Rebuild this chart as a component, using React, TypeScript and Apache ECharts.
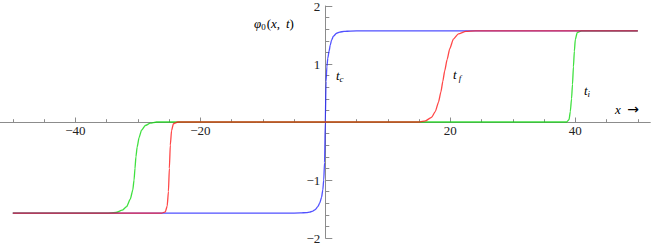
import React, { useEffect, useRef } from "react";
import * as echarts from "echarts";

// ---- data ----
const xMajorTicks = [-40, -20, 20, 40];
const xMinorTicks = [-50, -45, -40, -35, -30, -25, -20, -15, -10, -5, 5, 10, 15, 20, 25, 30, 35, 40, 45, 50];

const blueX = [-50, -6, -4, -3, -2.5, -2, -1.6, -1.2, -0.9, -0.6, -0.4, -0.25, -0.12, 0, 0.12, 0.25, 0.4, 0.6, 0.8, 1.0, 1.3, 1.8, 2.3, 3, 4, 6, 50];
const blueY = [-1.571, -1.571, -1.568, -1.562, -1.553, -1.535, -1.51, -1.46, -1.40, -1.30, -1.17, -1.0, -0.7, 0, 0.7, 0.95, 1.1, 1.22, 1.33, 1.41, 1.48, 1.53, 1.55, 1.562, 1.568, 1.571, 1.571];

const redX = [-50, -26.2, -25.6, -25.3, -25.1, -24.95, -24.8, -24.6, -24.3, -23.6, 15, 16, 17, 17.6, 18.1, 18.5, 18.8, 19.1, 19.5, 19.9, 20.5, 21.3, 22.5, 24, 50];
const redY = [-1.571, -1.571, -1.55, -1.45, -1.2, -0.8, -0.4, -0.15, -0.03, 0, 0, 0.02, 0.08, 0.18, 0.34, 0.52, 0.7, 0.88, 1.08, 1.26, 1.43, 1.52, 1.562, 1.571, 1.571];

const greenX = [-50, -35, -33.5, -32.5, -31.8, -31.2, -30.8, -30.6, -30.45, -30.3, -30.1, -29.8, -29.4, -28.8, -28, -27, 38.6, 39.0, 39.2, 39.4, 39.55, 39.7, 39.85, 40.0, 40.3, 41, 50];
const greenY = [-1.571, -1.571, -1.56, -1.52, -1.46, -1.33, -1.17, -1.0, -0.8, -0.6, -0.43, -0.27, -0.14, -0.06, -0.02, 0, 0, 0.04, 0.18, 0.4, 0.65, 0.95, 1.22, 1.42, 1.54, 1.571, 1.571];

const zip = (xs: number[], ys: number[]) => xs.map((x, i) => [x, ys[i]]);

const SERIF = "'Liberation Serif', serif";

export default function App() {
  const ref = useRef<HTMLDivElement>(null);
  useEffect(() => {
    if (!ref.current) return;
    const chart = echarts.init(ref.current, null, { renderer: "svg" });
    const axisColor = "#8c8c8c";
    const labelColor = "#222";
    const minus = (v: number) => (v === 0 ? "" : v < 0 ? "\u2212" + -v : String(v));
    const lineCommon = {
      type: "line",
      showSymbol: false,
      symbol: "none",
      smooth: 0.2,
      smoothMonotone: "x",
      silent: true,
    };
    const gridLeft = 0.3;
    const gridRight = 3.7;
    const gridTop = 6;
    const gridBottom = 7;
    const halfW = (654 - gridLeft - gridRight) / 2;
    const halfH = (245 - gridTop - gridBottom) / 2;
    const rich = {
      i: { fontFamily: SERIF, fontStyle: "italic", fontSize: 13, lineHeight: 15, verticalAlign: "middle", color: "#222" },
      n: { fontFamily: SERIF, fontSize: 13, lineHeight: 15, verticalAlign: "middle", color: "#222" },
      s: { fontFamily: SERIF, fontStyle: "italic", fontSize: 9, lineHeight: 9, verticalAlign: "bottom", color: "#222" },
      s0: { fontFamily: SERIF, fontSize: 9, lineHeight: 9, verticalAlign: "bottom", color: "#222", padding: [0, 1, 0, 0] },
      a: { fontFamily: "DejaVu Sans", fontSize: 14, lineHeight: 15, verticalAlign: "middle", color: "#222" },
    };
    const tickLabelRich = {
      t: { fontFamily: SERIF, fontSize: 13, color: labelColor },
    };
    const fmt = (v: number) => (v === 0 ? "" : "{t|" + minus(v) + "}");
    chart.setOption({
      animation: false,
      textStyle: { fontFamily: SERIF },
      grid: {
        left: gridLeft,
        right: gridRight,
        top: gridTop,
        bottom: gridBottom,
        containLabel: false,
        outerBoundsMode: "none",
      },
      xAxis: [
        {
          type: "value",
          min: -52,
          max: 52,
          position: "bottom",
          offset: -halfH,
          axisLine: { show: true, onZero: false, lineStyle: { color: axisColor, width: 1 } },
          axisTick: { show: true, inside: true, length: 4.5, customValues: xMajorTicks, lineStyle: { color: axisColor } },
          axisLabel: {
            show: true,
            customValues: xMajorTicks,
            formatter: fmt,
            rich: tickLabelRich,
            color: labelColor,
            fontFamily: SERIF,
            fontSize: 13,
            margin: 2,
          },
          splitLine: { show: false },
        },
        {
          type: "value",
          min: -52,
          max: 52,
          gridIndex: 0,
          position: "bottom",
          offset: -halfH,
          axisLine: { show: false, onZero: false },
          axisTick: { show: true, inside: true, length: 2.8, customValues: xMinorTicks, lineStyle: { color: axisColor } },
          axisLabel: { show: false },
          splitLine: { show: false },
        },
      ],
      yAxis: {
        type: "value",
        min: -2,
        max: 2,
        interval: 1,
        position: "left",
        offset: -halfW,
        axisLine: { show: true, onZero: false, lineStyle: { color: axisColor, width: 1 } },
        axisTick: { show: true, inside: true, length: 7, lineStyle: { color: axisColor } },
        minorTick: { show: true, splitNumber: 5, length: 4, lineStyle: { color: axisColor } },
        axisLabel: {
          formatter: fmt,
          rich: tickLabelRich,
          color: labelColor,
          fontFamily: SERIF,
          fontSize: 13,
          margin: 5,
        },
        splitLine: { show: false },
        minorSplitLine: { show: false },
      },
      series: [
        { ...lineCommon, name: "green", data: zip(greenX, greenY), lineStyle: { color: "#10d810", width: 1.3, opacity: 0.8 }, z: 3 },
        { ...lineCommon, name: "blue", data: zip(blueX, blueY), lineStyle: { color: "#2020ff", width: 1.3, opacity: 0.78 }, z: 4 },
        { ...lineCommon, name: "red", data: zip(redX, redY), lineStyle: { color: "#ff1a1a", width: 1.3, opacity: 0.8 }, z: 5 },
      ],
      graphic: [
        { type: "text", left: 254, top: 17, style: { text: "{i|φ}{s0|0}{n|(}{i|x}{n|,\u2009 }{i|t}{n|)}", rich } },
        { type: "text", left: 336, top: 69, style: { text: "{i|t}{s|c}", rich } },
        { type: "text", left: 453, top: 68, style: { text: "{i|t}{s| f}", rich } },
        { type: "text", left: 584, top: 84, style: { text: "{i|t}{s|i}", rich } },
        { type: "text", left: 615, top: 102, style: { text: "{i|x}{n|  }{a|→}", rich } },
      ],
    });
    return () => chart.dispose();
  }, []);
  return (
    <div
      ref={ref}
      style={{ position: "fixed", left: 0, top: 0, width: 654, height: 245, background: "#fff" }}
    />
  );
}
